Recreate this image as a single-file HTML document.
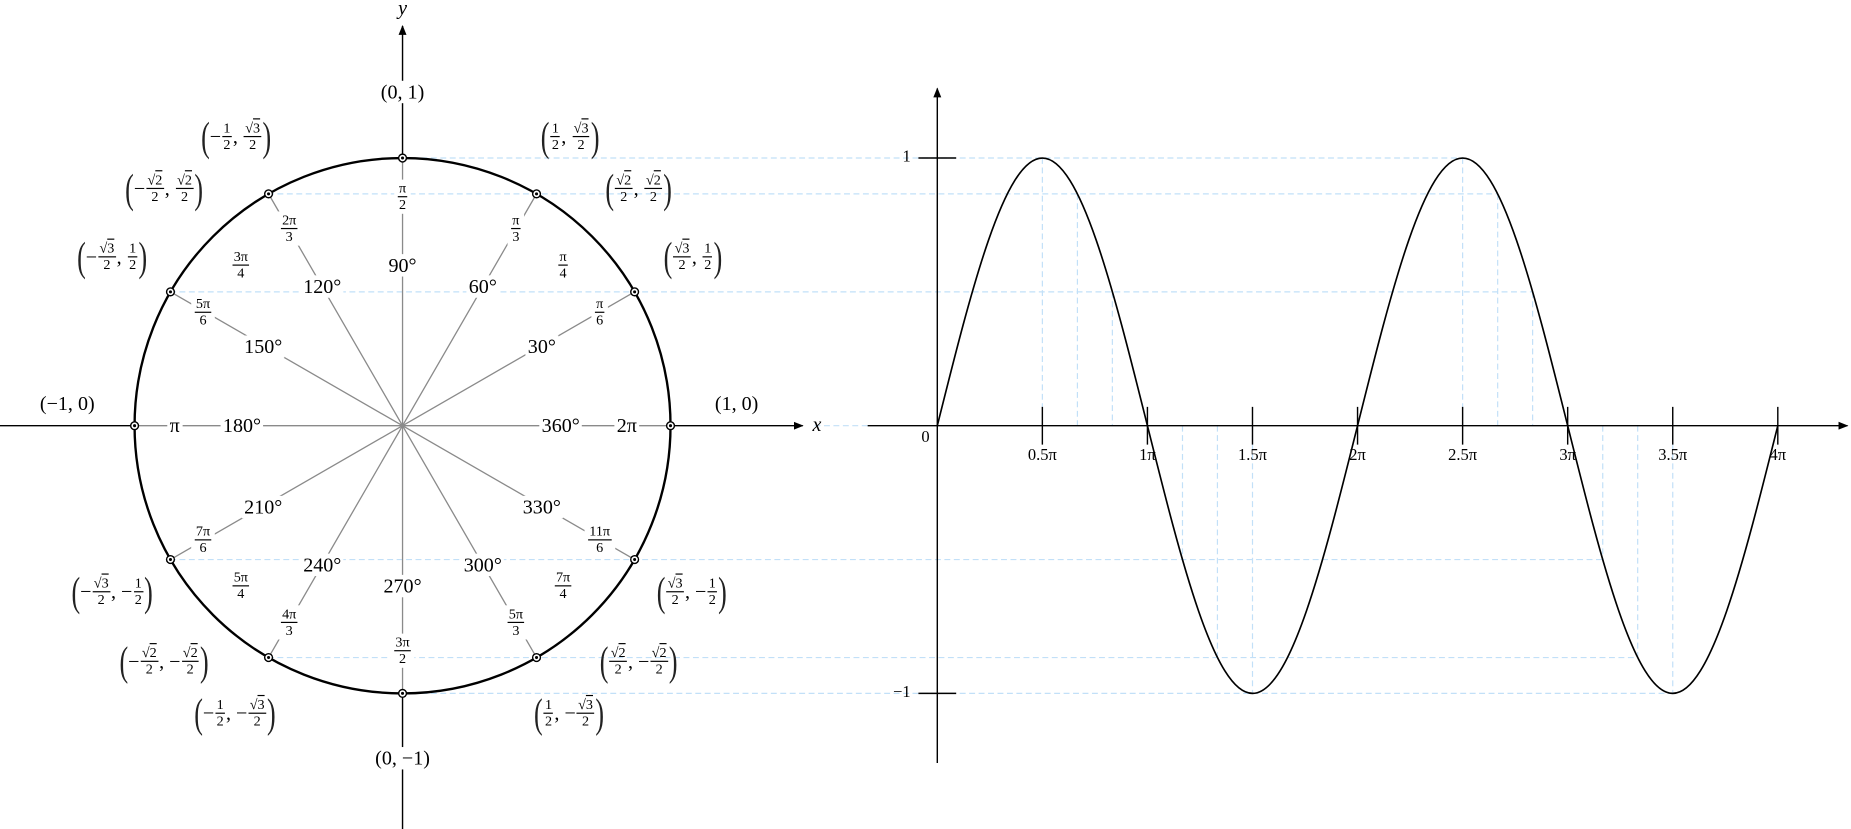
<!DOCTYPE html>
<html><head><meta charset="utf-8">
<style>
html,body{margin:0;padding:0;background:#fff;overflow:hidden;width:1851px;height:829px}
#c{position:absolute;left:0;top:0;width:1568px;height:703px;transform:scale(1.18048,1.17923);transform-origin:0 0;font-family:"Liberation Serif",serif;color:#000}
svg{position:absolute;left:0;top:0}
.l{position:absolute;transform:translate(-50%,-50%);white-space:nowrap;font-size:17px;line-height:1;display:flex;align-items:center}
.w{background:#fff;padding:1px 2px}
.f{display:inline-flex;flex-direction:column;align-items:center;font-size:12px;line-height:1.1;vertical-align:middle;margin:0 1px}
.f>span:first-child{border-bottom:0.9px solid #000;padding:0 1px}
.p{font-size:22px;display:inline-block;transform:scaleY(1.6);line-height:1;color:#222}
.o{text-decoration:overline}
.t{position:absolute;transform:translate(-50%,0);font-size:14px;line-height:1}
</style></head><body>
<div id="c">
<svg width="1568" height="703" viewBox="0 0 1568 703">
<defs><marker id="a" viewBox="0 0 10 10" refX="9" refY="5" markerWidth="7" markerHeight="7" orient="auto"><path d="M0,1 L10,5 L0,9 Z" fill="#000"/></marker></defs>
<g stroke="#c2e0f8" stroke-width="1" stroke-dasharray="5 3" fill="none">
<line x1="341" y1="134" x2="1240" y2="134"/>
<line x1="227" y1="164.4" x2="1269" y2="164.4"/>
<line x1="144" y1="247.5" x2="1298" y2="247.5"/>
<line x1="144" y1="474.5" x2="1358" y2="474.5"/>
<line x1="227" y1="557.6" x2="1387" y2="557.6"/>
<line x1="341" y1="588" x2="1417" y2="588"/>
<line x1="690" y1="361" x2="735" y2="361"/>
<line x1="883" y1="134" x2="883" y2="361"/><line x1="912.7" y1="164.4" x2="912.7" y2="361"/><line x1="942.3" y1="247.5" x2="942.3" y2="361"/>
<line x1="1001.7" y1="361" x2="1001.7" y2="474.5"/><line x1="1031.3" y1="361" x2="1031.3" y2="557.6"/><line x1="1061" y1="361" x2="1061" y2="588"/>
<line x1="1239" y1="134" x2="1239" y2="361"/><line x1="1268.7" y1="164.4" x2="1268.7" y2="361"/><line x1="1298.3" y1="247.5" x2="1298.3" y2="361"/>
<line x1="1357.7" y1="361" x2="1357.7" y2="474.5"/><line x1="1387.3" y1="361" x2="1387.3" y2="557.6"/><line x1="1417" y1="361" x2="1417" y2="588"/>
</g>
<g stroke="#8a8a8a" stroke-width="1.1">
<line x1="114" y1="361" x2="568" y2="361"/><line x1="341" y1="134" x2="341" y2="588"/>
<line x1="144.4" y1="247.5" x2="537.6" y2="474.5"/><line x1="144.4" y1="474.5" x2="537.6" y2="247.5"/>
<line x1="227.5" y1="164.4" x2="454.5" y2="557.6"/><line x1="227.5" y1="557.6" x2="454.5" y2="164.4"/>
</g>
<g stroke="#000" stroke-width="1.2" fill="none">
<line x1="0" y1="361" x2="114" y2="361"/><line x1="568" y1="361" x2="680" y2="361" marker-end="url(#a)"/>
<line x1="341" y1="703" x2="341" y2="588"/><line x1="341" y1="134" x2="341" y2="22" marker-end="url(#a)"/>
<circle cx="341" cy="361" r="227" stroke-width="2"/>
<line x1="735" y1="361" x2="1565" y2="361" marker-end="url(#a)"/>
<line x1="794" y1="647" x2="794" y2="75" marker-end="url(#a)"/>
<line x1="778" y1="134" x2="810" y2="134"/><line x1="778" y1="588" x2="810" y2="588"/>
<path d="M883,345V377M972,345V377M1061,345V377M1150,345V377M1239,345V377M1328,345V377M1417,345V377M1506,345V377"/>
<path stroke-width="1.4" d="M794,361 C823.03,244.7 850.79,134 883,134 C915.21,134 942.97,244.7 972,361 C1001.03,477.3 1028.79,588 1061,588 C1093.21,588 1120.97,477.3 1150,361 C1179.03,244.7 1206.79,134 1239,134 C1271.21,134 1298.97,244.7 1328,361 C1357.03,477.3 1384.79,588 1417,588 C1449.21,588 1476.97,477.3 1506,361"/>
</g>
<g fill="#fff" stroke="#000" stroke-width="1.2">
<circle cx="537.6" cy="247.5" r="3.3"/><circle cx="454.5" cy="164.4" r="3.3"/><circle cx="341" cy="134" r="3.3"/><circle cx="227.5" cy="164.4" r="3.3"/><circle cx="144.4" cy="247.5" r="3.3"/><circle cx="114" cy="361" r="3.3"/><circle cx="144.4" cy="474.5" r="3.3"/><circle cx="227.5" cy="557.6" r="3.3"/><circle cx="341" cy="588" r="3.3"/><circle cx="454.5" cy="557.6" r="3.3"/><circle cx="537.6" cy="474.5" r="3.3"/><circle cx="568" cy="361" r="3.3"/>
</g>
<g fill="#000">
<circle cx="537.6" cy="247.5" r="1.3"/><circle cx="454.5" cy="164.4" r="1.3"/><circle cx="341" cy="134" r="1.3"/><circle cx="227.5" cy="164.4" r="1.3"/><circle cx="144.4" cy="247.5" r="1.3"/><circle cx="114" cy="361" r="1.3"/><circle cx="144.4" cy="474.5" r="1.3"/><circle cx="227.5" cy="557.6" r="1.3"/><circle cx="341" cy="588" r="1.3"/><circle cx="454.5" cy="557.6" r="1.3"/><circle cx="537.6" cy="474.5" r="1.3"/><circle cx="568" cy="361" r="1.3"/>
</g>
</svg>

<div class="l w" style="left:341px;top:225px">90°</div>
<div class="l w" style="left:409px;top:243px">60°</div>
<div class="l w" style="left:459px;top:294px">30°</div>
<div class="l w" style="left:273px;top:243px">120°</div>
<div class="l w" style="left:223px;top:294px">150°</div>
<div class="l w" style="left:205px;top:361px">180°</div>
<div class="l w" style="left:223px;top:430px">210°</div>
<div class="l w" style="left:273px;top:479px">240°</div>
<div class="l w" style="left:341px;top:497px">270°</div>
<div class="l w" style="left:409px;top:479px">300°</div>
<div class="l w" style="left:459px;top:430px">330°</div>
<div class="l w" style="left:475px;top:361px">360°</div>
<div class="l w" style="left:148px;top:361px">π</div>
<div class="l w" style="left:531px;top:361px">2π</div>

<div class="l w" style="left:341px;top:167px"><span class="f"><span>π</span><span>2</span></span></div>
<div class="l w" style="left:437px;top:194px"><span class="f"><span>π</span><span>3</span></span></div>
<div class="l" style="left:477px;top:225px"><span class="f"><span>π</span><span>4</span></span></div>
<div class="l w" style="left:508px;top:265px"><span class="f"><span>π</span><span>6</span></span></div>
<div class="l w" style="left:245px;top:194px"><span class="f"><span>2π</span><span>3</span></span></div>
<div class="l" style="left:204px;top:225px"><span class="f"><span>3π</span><span>4</span></span></div>
<div class="l w" style="left:172px;top:265px"><span class="f"><span>5π</span><span>6</span></span></div>
<div class="l w" style="left:172px;top:458px"><span class="f"><span>7π</span><span>6</span></span></div>
<div class="l" style="left:204px;top:497px"><span class="f"><span>5π</span><span>4</span></span></div>
<div class="l w" style="left:245px;top:528px"><span class="f"><span>4π</span><span>3</span></span></div>
<div class="l w" style="left:341px;top:552px"><span class="f"><span>3π</span><span>2</span></span></div>
<div class="l w" style="left:437px;top:528px"><span class="f"><span>5π</span><span>3</span></span></div>
<div class="l" style="left:477px;top:497px"><span class="f"><span>7π</span><span>4</span></span></div>
<div class="l w" style="left:508px;top:458px"><span class="f"><span>11π</span><span>6</span></span></div>

<div class="l w" style="left:341px;top:78px">(0, 1)</div>
<div class="l w" style="left:341px;top:643px">(0, −1)</div>
<div class="l" style="left:624px;top:342px">(1, 0)</div>
<div class="l" style="left:57px;top:342px">(−1, 0)</div>
<div class="l" style="left:692px;top:360px;font-style:italic">x</div>
<div class="l" style="left:341px;top:7px;font-style:italic">y</div>

<div class="l" style="left:483px;top:116px"><span class="p">(</span><span class="f"><span>1</span><span>2</span></span>,&nbsp;<span class="f"><span>√<span class="o">3</span></span><span>2</span></span><span class="p">)</span></div>
<div class="l" style="left:200px;top:116px"><span class="p">(</span>−<span class="f"><span>1</span><span>2</span></span>,&nbsp;<span class="f"><span>√<span class="o">3</span></span><span>2</span></span><span class="p">)</span></div>
<div class="l" style="left:541px;top:160px"><span class="p">(</span><span class="f"><span>√<span class="o">2</span></span><span>2</span></span>,&nbsp;<span class="f"><span>√<span class="o">2</span></span><span>2</span></span><span class="p">)</span></div>
<div class="l" style="left:139px;top:160px"><span class="p">(</span>−<span class="f"><span>√<span class="o">2</span></span><span>2</span></span>,&nbsp;<span class="f"><span>√<span class="o">2</span></span><span>2</span></span><span class="p">)</span></div>
<div class="l" style="left:587px;top:218px"><span class="p">(</span><span class="f"><span>√<span class="o">3</span></span><span>2</span></span>,&nbsp;<span class="f"><span>1</span><span>2</span></span><span class="p">)</span></div>
<div class="l" style="left:95px;top:218px"><span class="p">(</span>−<span class="f"><span>√<span class="o">3</span></span><span>2</span></span>,&nbsp;<span class="f"><span>1</span><span>2</span></span><span class="p">)</span></div>
<div class="l" style="left:586px;top:502px"><span class="p">(</span><span class="f"><span>√<span class="o">3</span></span><span>2</span></span>,&nbsp;−<span class="f"><span>1</span><span>2</span></span><span class="p">)</span></div>
<div class="l" style="left:95px;top:502px"><span class="p">(</span>−<span class="f"><span>√<span class="o">3</span></span><span>2</span></span>,&nbsp;−<span class="f"><span>1</span><span>2</span></span><span class="p">)</span></div>
<div class="l" style="left:541px;top:561px"><span class="p">(</span><span class="f"><span>√<span class="o">2</span></span><span>2</span></span>,&nbsp;−<span class="f"><span>√<span class="o">2</span></span><span>2</span></span><span class="p">)</span></div>
<div class="l" style="left:139px;top:561px"><span class="p">(</span>−<span class="f"><span>√<span class="o">2</span></span><span>2</span></span>,&nbsp;−<span class="f"><span>√<span class="o">2</span></span><span>2</span></span><span class="p">)</span></div>
<div class="l" style="left:482px;top:605px"><span class="p">(</span><span class="f"><span>1</span><span>2</span></span>,&nbsp;−<span class="f"><span>√<span class="o">3</span></span><span>2</span></span><span class="p">)</span></div>
<div class="l" style="left:199px;top:605px"><span class="p">(</span>−<span class="f"><span>1</span><span>2</span></span>,&nbsp;−<span class="f"><span>√<span class="o">3</span></span><span>2</span></span><span class="p">)</span></div>

<div class="l" style="left:768px;top:134px;font-size:14px">1</div>
<div class="l" style="left:764px;top:588px;font-size:14px">−1</div>
<div class="l" style="left:784px;top:372px;font-size:14px">0</div>
<div class="t" style="left:883px;top:380px">0.5π</div>
<div class="t" style="left:972px;top:380px">1π</div>
<div class="t" style="left:1061px;top:380px">1.5π</div>
<div class="t" style="left:1150px;top:380px">2π</div>
<div class="t" style="left:1239px;top:380px">2.5π</div>
<div class="t" style="left:1328px;top:380px">3π</div>
<div class="t" style="left:1417px;top:380px">3.5π</div>
<div class="t" style="left:1506px;top:380px">4π</div>
</div>
</body></html>
